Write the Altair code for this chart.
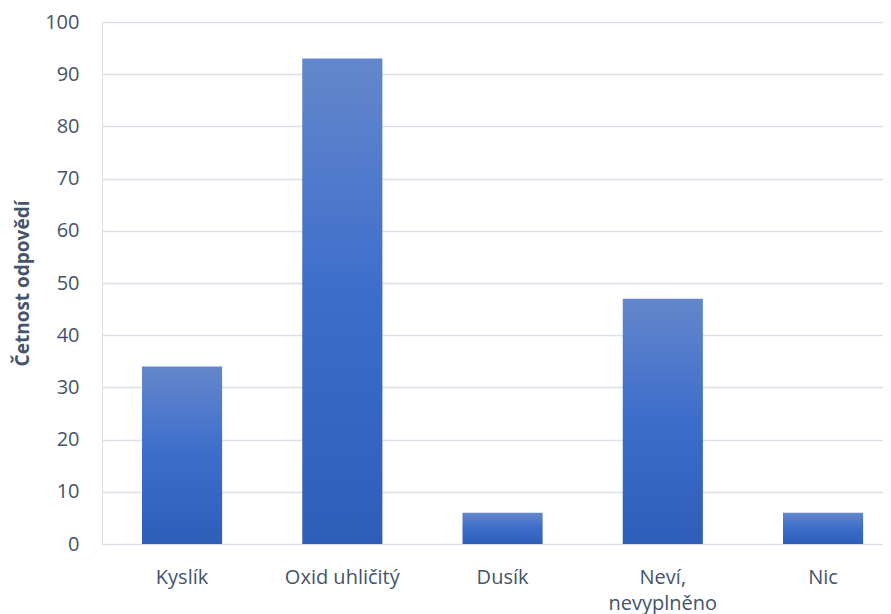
import altair as alt
import pandas as pd

categories = ["Kyslík", "Oxid uhličitý", "Dusík", "Neví, nevyplněno", "Nic"]
values = [34, 93, 6, 47, 6]
y_ticks = [0, 10, 20, 30, 40, 50, 60, 70, 80, 90, 100]

df = pd.DataFrame({"kategorie": categories, "cetnost": values})

text_color = "#44546A"
font = "Open Sans"

chart = alt.Chart(df).mark_bar(
    color=alt.Gradient(
        gradient="linear",
        x1=0, y1=0, x2=0, y2=1,
        stops=[
            alt.GradientStop(color="#6487CB", offset=0),
            alt.GradientStop(color="#3C6DCB", offset=0.5),
            alt.GradientStop(color="#2F5EB9", offset=1),
        ],
    )
).encode(
    x=alt.X(
        "kategorie:N",
        sort=categories,
        scale=alt.Scale(paddingInner=0.5, paddingOuter=0.1868, align=0.668),
        axis=alt.Axis(
            title=None,
            labelAngle=0,
            domain=False,
            ticks=False,
            tickSize=0,
            labelPadding=23,
            labelFont=font,
            labelFontSize=20,
            labelColor=text_color,
            labelLineHeight=26,
            labelExpr="datum.label == 'Neví, nevyplněno' ? ['Neví,', 'nevyplněno'] : datum.label",
        ),
    ),
    y=alt.Y(
        "cetnost:Q",
        scale=alt.Scale(domain=[0, 100], nice=False),
        axis=alt.Axis(
            title="Četnost odpovědí",
            values=y_ticks,
            domain=False,
            ticks=False,
            tickSize=0,
            labelPadding=23,
            labelFont=font,
            labelFontSize=20,
            labelColor=text_color,
            titleFont=font,
            titleFontSize=19,
            titleFontWeight="bold",
            titleColor=text_color,
            titlePadding=12,
            grid=True,
            gridColor="#DCE0E9",
            gridWidth=1.5,
        ),
    ),
).properties(
    width=781,
    height=522,
    autosize=alt.AutoSizeParams(type="none"),
    padding={"left": 94, "top": 14, "right": 0, "bottom": 70},
).configure_view(
    stroke=None
).configure(
    background="white"
)

chart.save("out.html", embed_options={"renderer": "svg", "actions": False})
